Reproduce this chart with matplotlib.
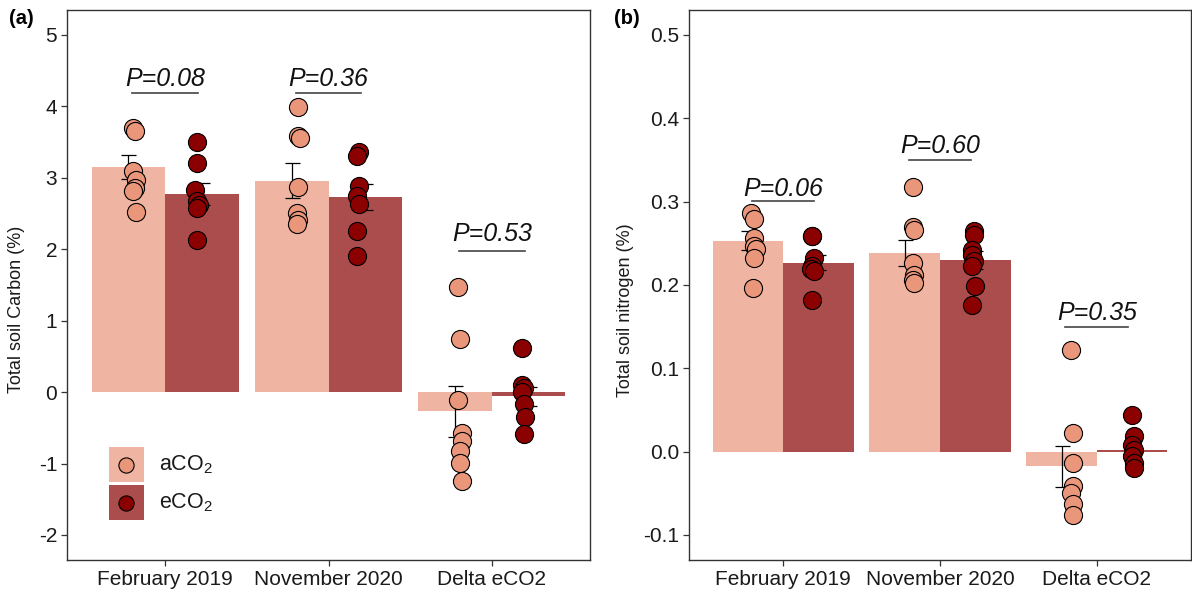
import numpy as np
import matplotlib
matplotlib.use("Agg")
import matplotlib.pyplot as plt
from matplotlib.patches import Rectangle

plt.rcParams['font.family'] = ['Liberation Sans', 'DejaVu Sans']
plt.rcParams['mathtext.fontset'] = 'custom'
plt.rcParams['mathtext.rm'] = 'Liberation Sans'
plt.rcParams['mathtext.it'] = 'Liberation Sans:italic'

# ---------------- data ----------------
categories = ["February 2019", "November 2020", "Delta eCO2"]
treatments = ["aCO$_2$", "eCO$_2$"]

# Panel (a): Total soil Carbon (%)
c_mean_a = [3.15, 2.96, -0.27]
c_mean_e = [2.78, 2.73, -0.06]
c_se_a = [0.165, 0.245, 0.355]
c_se_e = [0.155, 0.185, 0.135]
c_pts_a = [
    [3.70, 3.66, 3.10, 2.97, 2.86, 2.82, 2.52],
    [3.99, 3.59, 3.56, 2.87, 2.51, 2.41, 2.36],
    [1.47, 0.74, -0.11, -0.57, -0.69, -0.83, -0.99, -1.25],
]
c_pts_e = [
    [3.50, 3.21, 2.83, 2.67, 2.62, 2.58, 2.13],
    [3.36, 3.30, 2.88, 2.75, 2.63, 2.26, 1.90],
    [0.62, 0.10, 0.06, 0.00, -0.17, -0.35, -0.59],
]
c_pvals = ["0.08", "0.36", "0.53"]

# Panel (b): Total soil nitrogen (%)
n_mean_a = [0.253, 0.2385, -0.0176]
n_mean_e = [0.2265, 0.2297, 0.002]
n_se_a = [0.0113, 0.016, 0.0243]
n_se_e = [0.009, 0.0108, 0.0086]
n_pts_a = [
    [0.286, 0.279, 0.2565, 0.2465, 0.2437, 0.2325, 0.197],
    [0.318, 0.270, 0.2665, 0.227, 0.2125, 0.2065, 0.2025],
    [0.1224, 0.0224, -0.0136, -0.0416, -0.0496, -0.0624, -0.0756],
]
n_pts_e = [
    [0.259, 0.2585, 0.2325, 0.2225, 0.219, 0.2165, 0.182],
    [0.2645, 0.2605, 0.2425, 0.2365, 0.2285, 0.2225, 0.199, 0.1765],
    [0.0444, 0.0184, 0.0084, 0.0024, -0.0056, -0.0136, -0.0196],
]
n_pvals = ["0.06", "0.60", "0.35"]

# horizontal jitter of points (category units)
c_jit_a = [[0.03, 0.04, 0.03, 0.05, 0.04, 0.03, 0.05],
           [0.04, 0.04, 0.05, 0.04, 0.03, 0.04, 0.03],
           [0.02, 0.03, 0.02, 0.04, 0.04, 0.03, 0.03, 0.04]]
c_jit_e = [[-0.03, -0.03, -0.04, -0.03, -0.02, -0.03, -0.03],
           [-0.04, -0.05, -0.04, -0.05, -0.04, -0.05, -0.05],
           [-0.04, -0.04, -0.03, -0.04, -0.03, -0.02, -0.03]]
n_jit_a = [[0.02, 0.04, 0.04, 0.04, 0.05, 0.04, 0.03],
           [0.05, 0.05, 0.06, 0.05, 0.06, 0.05, 0.06],
           [0.06, 0.07, 0.07, 0.07, 0.06, 0.07, 0.07]]
n_jit_e = [[-0.04, -0.04, -0.03, -0.04, -0.05, -0.03, -0.04],
           [-0.01, -0.01, -0.02, -0.02, -0.01, -0.02, 0.0, -0.02],
           [0.0, 0.01, 0.0, 0.01, 0.0, 0.01, 0.01]]

# ---------------- style ----------------
bar_a = "#F0B5A2"
bar_e = "#AC4D4D"
pt_a = "#E9967A"
pt_e = "#8B0000"
axis_col = "#333333"
txt_col = "#1a1a1a"
dodge = 0.225
bw = 0.45

fig = plt.figure(figsize=(11.92, 5.97), dpi=100)
H = 597.0
W = 1192.0
ax1 = fig.add_axes([67 / W, (H - 560) / H, (590 - 67) / W, 550 / H])
ax2 = fig.add_axes([689 / W, (H - 560) / H, (1191 - 689) / W, 550 / H])


def panel(ax, ma, me, sa, se, pa, pe, ja, je, pvals, ylim, yticks, ylab,
          p_text_y, p_line_y, ticklabels, ylab_x):
    x = np.arange(1, len(categories) + 1)
    ax.bar(x - dodge, ma, width=bw, color=bar_a, zorder=1)
    ax.bar(x + dodge, me, width=bw, color=bar_e, zorder=1)
    ax.errorbar(x - dodge, ma, yerr=sa, fmt='none', ecolor='black',
                elinewidth=0.9, capsize=5.4, capthick=0.9, zorder=2)
    ax.errorbar(x + dodge, me, yerr=se, fmt='none', ecolor='black',
                elinewidth=0.9, capsize=5.4, capthick=0.9, zorder=2)
    for i in range(len(categories)):
        xa = (x[i] - dodge) + np.array(ja[i])
        xe = (x[i] + dodge) + np.array(je[i])
        ax.scatter(xa, pa[i], s=170, c=pt_a, edgecolors='black',
                   linewidths=0.8, zorder=3)
        ax.scatter(xe, pe[i], s=170, c=pt_e, edgecolors='black',
                   linewidths=0.8, zorder=3)
        ax.text(x[i], p_text_y[i], "P=" + pvals[i], style='italic',
                fontsize=18, ha='center', va='center', color='#111111')
        ax.plot([x[i] - 0.2, x[i] + 0.2], [p_line_y[i], p_line_y[i]],
                color='#444444', lw=1.2)
    ax.set_xlim(0.4, 3.6)
    ax.set_ylim(*ylim)
    ax.set_xticks(x)
    ax.set_xticklabels(categories, fontsize=15, color=txt_col)
    ax.set_yticks(yticks)
    ax.set_yticklabels(ticklabels, fontsize=15, color=txt_col)
    ax.set_ylabel(ylab, fontsize=13, color=txt_col)
    ax.yaxis.set_label_coords(ylab_x, 0.455)
    for s in ax.spines.values():
        s.set_color(axis_col)
        s.set_linewidth(1.0)
    ax.tick_params(axis='both', length=4, width=0.9, color=axis_col, pad=3)


c_ticks = [-2, -1, 0, 1, 2, 3, 4, 5]
panel(ax1, c_mean_a, c_mean_e, c_se_a, c_se_e, c_pts_a, c_pts_e, c_jit_a,
      c_jit_e, c_pvals, (-2.35, 5.35), c_ticks, "Total soil Carbon (%)",
      [4.38, 4.38, 2.21], [4.19, 4.19, 1.97], [str(t) for t in c_ticks],
      -42 / 523)

n_ticks = [-0.1, 0.0, 0.1, 0.2, 0.3, 0.4, 0.5]
panel(ax2, n_mean_a, n_mean_e, n_se_a, n_se_e, n_pts_a, n_pts_e, n_jit_a,
      n_jit_e, n_pvals, (-0.13, 0.53), n_ticks, "Total soil nitrogen (%)",
      [0.3155, 0.3665, 0.1665], [0.301, 0.3505, 0.150],
      ["%.1f" % t for t in n_ticks], -55 / 502)

# legend (manual, inside panel a)
for k, (bc, pc, lab) in enumerate([(bar_a, pt_a, treatments[0]),
                                   (bar_e, pt_e, treatments[1])]):
    y0 = 0.142 - k * 0.069
    ax1.add_patch(Rectangle((0.080, y0), 0.067, 0.063, transform=ax1.transAxes,
                            facecolor=bc, edgecolor='none', zorder=5))
    ax1.scatter([0.1135], [y0 + 0.0315], s=120, c=pc, edgecolors='black',
                linewidths=0.8, transform=ax1.transAxes, zorder=6)
    ax1.text(0.176, y0 + 0.0315, lab, transform=ax1.transAxes, fontsize=15.5,
             va='center', ha='left', color=txt_col)

fig.text(9 / W, 1 - 19 / H, "(a)", fontsize=14.5, fontweight='bold',
         va='center', ha='left')
fig.text(614 / W, 1 - 19 / H, "(b)", fontsize=14.5, fontweight='bold',
         va='center', ha='left')

fig.savefig("out.png", dpi=100)
